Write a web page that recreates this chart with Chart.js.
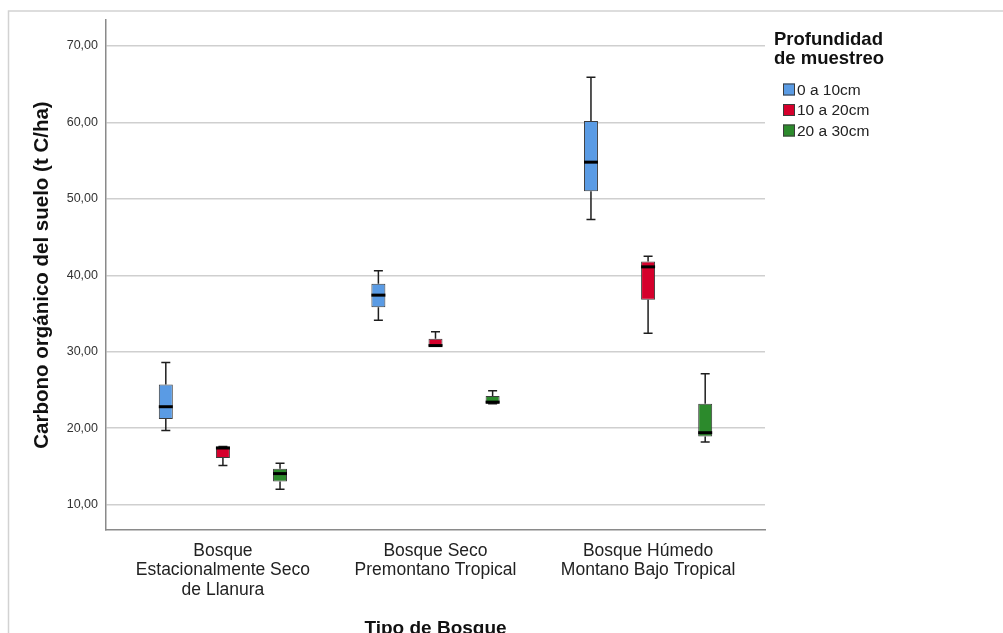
<!DOCTYPE html>
<html>
<head>
<meta charset="utf-8">
<script src="https://cdn.jsdelivr.net/npm/chart.js@4/dist/chart.umd.min.js"></script>
<style>
  html, body { margin: 0; padding: 0; background: #ffffff; }
  #wrap { width: 1003px; height: 633px; position: relative; }
</style>
</head>
<body>
<div id="wrap"><canvas id="c" width="1003" height="633"></canvas></div>
<script>
// ---- Data ----
const categories = [
  ["Bosque", "Estacionalmente Seco", "de Llanura"],
  ["Bosque Seco", "Premontano Tropical"],
  ["Bosque Húmedo", "Montano Bajo Tropical"]
];
const seriesNames = ["0 a 10cm", "10 a 20cm", "20 a 30cm"];
const seriesColors = ["#5a9be4", "#d5002c", "#2c8a2c"];

// per series, per category: minimum, Q1, median, Q3, maximum
const min0    = [19.7, 34.1, 47.3];
const q1_0    = [21.2, 35.8, 51.0];
const med0    = [22.8, 37.4, 54.8];
const q3_0    = [25.7, 38.9, 60.2];
const max0    = [28.6, 40.6, 65.9];

const min1    = [15.1, 30.7, 32.4];
const q1_1    = [16.1, 30.7, 36.8];
const med1    = [17.4, 30.8, 41.1];
const q3_1    = [17.6, 31.7, 41.8];
const max1    = [17.6, 32.6, 42.5];

const min2    = [12.0, 23.2, 18.2];
const q1_2    = [13.0, 23.2, 18.9];
const med2    = [14.05, 23.4, 19.4];
const q3_2    = [14.7, 24.2, 23.2];
const max2    = [15.4, 24.9, 27.1];

const yTicks = [10, 20, 30, 40, 50, 60, 70];
const yTitle = "Carbono orgánico del suelo (t C/ha)";
const xTitle = "Tipo de Bosque";
const legendTitle = ["Profundidad", "de muestreo"];

const stats = [
  {min: min0, q1: q1_0, med: med0, q3: q3_0, max: max0},
  {min: min1, q1: q1_1, med: med1, q3: q3_1, max: max1},
  {min: min2, q1: q1_2, med: med2, q3: q3_2, max: max2}
];

const datasets = stats.map((s, i) => ({
  label: seriesNames[i],
  data: categories.map((_, j) => ({x: j, y: [s.q1[j], s.q3[j]]})),
  backgroundColor: seriesColors[i],
  borderColor: "#3c3c3c",
  borderWidth: 1,
  borderSkipped: false,
  categoryPercentage: 0.806,
  barPercentage: 0.245,
  grouped: true
}));

const FONT = "'Liberation Sans', Arial, sans-serif";

const whiskerPlugin = {
  id: "whiskers",
  afterDatasetsDraw(chart) {
    const ctx = chart.ctx;
    const yS = chart.scales.y;
    chart.data.datasets.forEach((ds, i) => {
      const meta = chart.getDatasetMeta(i);
      const s = stats[i];
      meta.data.forEach((bar, j) => {
        const x = bar.x;
        const w = bar.width;
        const yMin = yS.getPixelForValue(s.min[j]);
        const yQ1 = yS.getPixelForValue(s.q1[j]);
        const yQ3 = yS.getPixelForValue(s.q3[j]);
        const yMax = yS.getPixelForValue(s.max[j]);
        const yMed = yS.getPixelForValue(s.med[j]);
        ctx.save();
        ctx.strokeStyle = "#1e1e1e";
        ctx.lineWidth = 1.5;
        ctx.beginPath();
        ctx.moveTo(x, yQ3); ctx.lineTo(x, yMax);
        ctx.moveTo(x, yQ1); ctx.lineTo(x, yMin);
        ctx.moveTo(x - 4.5, yMax); ctx.lineTo(x + 4.5, yMax);
        ctx.moveTo(x - 4.5, yMin); ctx.lineTo(x + 4.5, yMin);
        ctx.stroke();
        ctx.strokeStyle = "#000000";
        ctx.lineWidth = 3;
        ctx.beginPath();
        ctx.moveTo(x - w / 2, yMed); ctx.lineTo(x + w / 2, yMed);
        ctx.stroke();
        ctx.restore();
      });
    });
  }
};

const framePlugin = {
  id: "frame",
  beforeDraw(chart) {
    const ctx = chart.ctx;
    ctx.save();
    ctx.fillStyle = "#ffffff";
    ctx.fillRect(0, 0, chart.width, chart.height);
    ctx.strokeStyle = "#d2d2d2";
    ctx.lineWidth = 1.5;
    ctx.beginPath();
    ctx.moveTo(8.5, chart.height);
    ctx.lineTo(8.5, 11);
    ctx.lineTo(chart.width, 11);
    ctx.stroke();
    ctx.restore();
  }
};

const legendPlugin = {
  id: "sideLegend",
  afterDraw(chart) {
    const ctx = chart.ctx;
    ctx.save();
    ctx.fillStyle = "#111111";
    ctx.font = "bold 18.5px " + FONT;
    ctx.textBaseline = "middle";
    ctx.textAlign = "left";
    ctx.fillText(legendTitle[0], 774, 40);
    ctx.fillText(legendTitle[1], 774, 59);
    ctx.font = "15.5px " + FONT;
    chart.data.datasets.forEach((ds, i) => {
      const cy = 89.5 + i * 20.5;
      ctx.fillStyle = ds.backgroundColor;
      ctx.fillRect(783, cy - 6, 12, 12);
      ctx.strokeStyle = "#3c3c3c";
      ctx.lineWidth = 1;
      ctx.strokeRect(783.5, cy - 5.5, 11, 11);
      ctx.fillStyle = "#222222";
      ctx.fillText(ds.label, 797, cy + 1);
    });
    ctx.restore();
  }
};

new Chart(document.getElementById("c"), {
  type: "bar",
  data: { datasets },
  plugins: [framePlugin, whiskerPlugin, legendPlugin],
  options: {
    responsive: false,
    animation: false,
    layout: { padding: { left: 0, top: 20, right: 238, bottom: 0 } },
    plugins: { legend: { display: false }, tooltip: { enabled: false } },
    scales: {
      x: {
        type: "linear",
        min: -0.55,
        max: 2.55,
        offset: false,
        afterBuildTicks(scale) { scale.ticks = categories.map((_, j) => ({ value: j })); },
        afterFit(scale) { scale.height = 103; },
        ticks: {
          callback: (v) => categories[v],
          font: { family: FONT, size: 17.5, lineHeight: 1.12 },
          color: "#222222",
          padding: 11,
          maxRotation: 0,
          autoSkip: false
        },
        grid: { display: false, drawTicks: false },
        border: { display: true, color: "#8a8a8a", width: 1.5 },
        title: {
          display: true,
          text: xTitle,
          font: { family: FONT, size: 19, weight: "bold", lineHeight: 0.42 },
          color: "#111111",
          padding: 0
        }
      },
      y: {
        min: 6.67,
        max: 73.4,
        afterBuildTicks(scale) { scale.ticks = yTicks.map(v => ({ value: v })); },
        afterFit(scale) { scale.width = 106; },
        ticks: {
          callback: (v) => v.toFixed(2).replace(".", ","),
          font: { family: FONT, size: 12.5 },
          color: "#333333",
          padding: 8
        },
        grid: { color: "#cfcfcf", lineWidth: 1.5, drawTicks: false },
        border: { display: true, color: "#8a8a8a", width: 1.5 },
        title: {
          display: true,
          text: yTitle,
          font: { family: FONT, size: 20.5, weight: "bold", lineHeight: 1.2 },
          color: "#111111",
          padding: { top: 30, bottom: 0 }
        }
      }
    }
  }
});
</script>
</body>
</html>
